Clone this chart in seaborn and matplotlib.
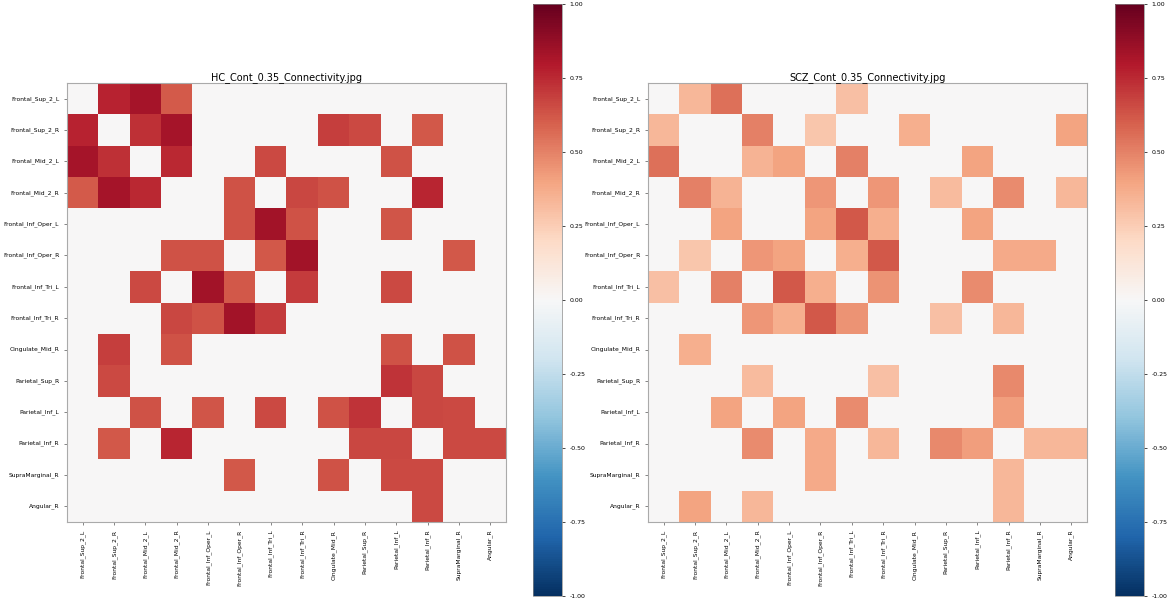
"""
HC vs SCZ connectivity matrices (threshold 0.35) as side-by-side heatmaps.
"""

import numpy as np
import pandas as pd
import matplotlib
matplotlib.use('Agg')
import matplotlib.pyplot as plt
import seaborn as sns

regions = ['Frontal_Sup_2_L', 'Frontal_Sup_2_R', 'Frontal_Mid_2_L', 'Frontal_Mid_2_R',
           'Frontal_Inf_Oper_L', 'Frontal_Inf_Oper_R', 'Frontal_Inf_Tri_L', 'Frontal_Inf_Tri_R',
           'Cingulate_Mid_R', 'Parietal_Sup_R', 'Parietal_Inf_L', 'Parietal_Inf_R',
           'SupraMarginal_R', 'Angular_R']

# healthy controls
hc_values = [
    [0, .77, .83, .61, 0, 0, 0, 0, 0, 0, 0, 0, 0, 0],
    [.77, 0, .73, .83, 0, 0, 0, 0, .69, .66, 0, .62, 0, 0],
    [.83, .73, 0, .75, 0, 0, .66, 0, 0, 0, .64, 0, 0, 0],
    [.61, .83, .75, 0, 0, .64, 0, .67, .64, 0, 0, .76, 0, 0],
    [0, 0, 0, 0, 0, .64, .84, .64, 0, 0, .63, 0, 0, 0],
    [0, 0, 0, .64, .64, 0, .62, .84, 0, 0, 0, 0, .62, 0],
    [0, 0, .66, 0, .84, .62, 0, .70, 0, 0, .66, 0, 0, 0],
    [0, 0, 0, .67, .64, .84, .70, 0, 0, 0, 0, 0, 0, 0],
    [0, .69, 0, .64, 0, 0, 0, 0, 0, 0, .64, 0, .64, 0],
    [0, .66, 0, 0, 0, 0, 0, 0, 0, 0, .72, .67, 0, 0],
    [0, 0, .64, 0, .63, 0, .66, 0, .64, .72, 0, .67, .66, 0],
    [0, .62, 0, .76, 0, 0, 0, 0, 0, .67, .67, 0, .66, .66],
    [0, 0, 0, 0, 0, .62, 0, 0, .64, 0, .66, .66, 0, 0],
    [0, 0, 0, 0, 0, 0, 0, 0, 0, 0, 0, .66, 0, 0],
]

# schizophrenia group
scz_values = [
    [0, .33, .55, 0, 0, 0, .30, 0, 0, 0, 0, 0, 0, 0],
    [.33, 0, 0, .50, 0, .28, 0, 0, .36, 0, 0, 0, 0, .40],
    [.55, 0, 0, .35, .40, 0, .50, 0, 0, 0, .40, 0, 0, 0],
    [0, .50, .35, 0, 0, .44, 0, .44, 0, .32, 0, .47, 0, .33],
    [0, 0, .40, 0, 0, .40, .62, .36, 0, 0, .40, 0, 0, 0],
    [0, .28, 0, .44, .40, 0, .36, .62, 0, 0, 0, .38, .38, 0],
    [.30, 0, .50, 0, .62, .36, 0, .45, 0, 0, .47, 0, 0, 0],
    [0, 0, 0, .44, .36, .62, .45, 0, 0, .30, 0, .33, 0, 0],
    [0, .36, 0, 0, 0, 0, 0, 0, 0, 0, 0, 0, 0, 0],
    [0, 0, 0, .32, 0, 0, 0, .30, 0, 0, 0, .48, 0, 0],
    [0, 0, .40, 0, .40, 0, .47, 0, 0, 0, 0, .42, 0, 0],
    [0, 0, 0, .47, 0, .38, 0, .33, 0, .48, .42, 0, .33, .33],
    [0, 0, 0, 0, 0, .38, 0, 0, 0, 0, 0, .33, 0, 0],
    [0, .40, 0, .33, 0, 0, 0, 0, 0, 0, 0, .33, 0, 0],
]

titles = ['HC_Cont_0.35_Connectivity.jpg', 'SCZ_Cont_0.35_Connectivity.jpg']
cbar_ticks = [-1.0, -0.75, -0.5, -0.25, 0.0, 0.25, 0.5, 0.75, 1.0]

W, H = 1168, 600
fig = plt.figure(figsize=(W / 100, H / 100), dpi=100)

# pixel layout: (heatmap left, colorbar left)
layout = [(67, 533), (648, 1115)]

for values, title, (hx, cx) in zip([hc_values, scz_values], titles, layout):
    df = pd.DataFrame(np.array(values), index=regions, columns=regions)
    ax = fig.add_axes([hx / W, (H - 522) / H, 439 / W, 439 / H])
    cax = fig.add_axes([cx / W, 4 / H, 29 / W, 592 / H])

    sns.heatmap(df, ax=ax, cbar_ax=cax, cmap='RdBu_r', vmin=-1, vmax=1,
                xticklabels=True, yticklabels=True)

    ax.set_title(title, fontsize=7, pad=2)
    ax.tick_params(axis='both', labelsize=4.3, length=2, width=0.5, color='#555555')
    ax.set_xticklabels(regions, rotation=90, fontsize=4.3)
    ax.set_yticklabels(regions, rotation=0, fontsize=4.3)
    for spine in ax.spines.values():
        spine.set_visible(True)
        spine.set_color('#aaaaaa')
        spine.set_linewidth(0.8)

    cbar = ax.collections[0].colorbar
    cbar.set_ticks(cbar_ticks)
    cbar.set_ticklabels([f'{t:.2f}' for t in cbar_ticks])
    cbar.outline.set_linewidth(0.5)
    cbar.outline.set_edgecolor('#888888')
    cax.tick_params(labelsize=4.5, length=2, width=0.5)

fig.savefig('out.png', dpi=100)
print("saved out.png")
